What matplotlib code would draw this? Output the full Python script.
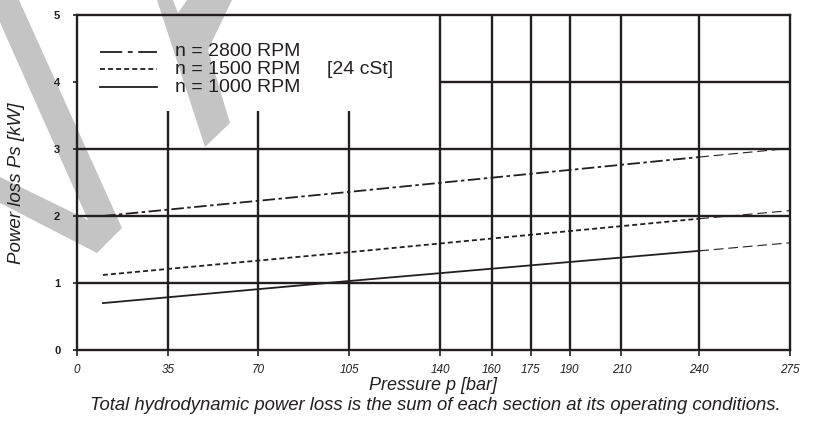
import matplotlib
matplotlib.use('Agg')
import matplotlib.pyplot as plt
from matplotlib.patches import Polygon

plt.rcParams['font.family'] = ['Liberation Sans', 'DejaVu Sans']
plt.rcParams['lines.scale_dashes'] = False

# data
pressure = [10, 105, 240]
ext_pressure = [240, 275]
loss_2800 = [2.00, 2.36, 2.88]
loss_2800_ext = [2.88, 3.01]
loss_1500 = [1.12, 1.46, 1.96]
loss_1500_ext = [1.96, 2.08]
loss_1000 = [0.70, 1.03, 1.48]
loss_1000_ext = [1.48, 1.60]
labels = ['n = 2800 RPM', 'n = 1500 RPM', 'n = 1000 RPM']

x_ticks = [0, 35, 70, 105, 140, 160, 175, 190, 210, 240, 275]
y_ticks = [0, 1, 2, 3, 4, 5]
full_vlines = [140, 160, 175, 190, 210, 240]
short_vlines = [35, 70, 105]
hlines = [1, 2, 3]

INK = '#231f20'
W, H = 825, 423

fig = plt.figure(figsize=(W / 100, H / 100), dpi=100)
ax = fig.add_axes([77 / W, 1 - 350 / H, 713 / W, 335 / H])
ax.patch.set_alpha(0)

# grey watermark strokes behind everything (pixel coords)
def px(points):
    return [(x / W, 1 - y / H) for x, y in points]

marks = [
    [(-10, 0), (19, 0), (122, 228), (97, 253), (0, 203), (0, 177), (88, 220)],
    [(157, 0), (173, 0), (178, 13), (187, 0), (232, 0), (208, 50), (230, 123), (205, 147)],
]
for m in marks:
    fig.add_artist(Polygon(px(m), closed=True, transform=fig.transFigure,
                           facecolor='#c4c4c4', edgecolor='none', zorder=-5))

ax.set_xlim(0, 275)
ax.set_ylim(0, 5)

# grid
glw = 1.7
ax.vlines(full_vlines, 0, 5, colors=INK, lw=glw, zorder=1)
ax.vlines(short_vlines, 0, 3.57, colors=INK, lw=glw, zorder=1)
ax.hlines(hlines, 0, 275, colors=INK, lw=glw, zorder=1)
ax.hlines([4], 140, 275, colors=INK, lw=glw, zorder=1)
for s in ax.spines.values():
    s.set_linewidth(glw)
    s.set_color(INK)

# curves
style_2800 = dict(color=INK, lw=1.3, dashes=(9, 2.5, 2.5, 2.5))
style_1500 = dict(color=INK, lw=1.3, dashes=(3.6, 2.2))
style_1000 = dict(color=INK, lw=1.3)
ext_style = dict(color=INK, lw=0.8, dashes=(7, 3.5))

ax.plot(pressure, loss_2800, zorder=3, **style_2800)
ax.plot(pressure, loss_1500, zorder=3, **style_1500)
ax.plot(pressure, loss_1000, zorder=3, **style_1000)
ax.plot(ext_pressure, loss_2800_ext, zorder=3, **ext_style)
ax.plot(ext_pressure, loss_1500_ext, zorder=3, **ext_style)
ax.plot(ext_pressure, loss_1000_ext, zorder=3, **ext_style)

# legend drawn by hand
leg_y = [0.8896, 0.8388, 0.785]
leg_styles = [dict(color=INK, lw=1.3, dashes=(16, 4, 3.5, 4)),
              dict(color=INK, lw=1.3, dashes=(3.6, 2.2)),
              dict(color=INK, lw=1.3)]
for yy, lab, st in zip(leg_y, labels, leg_styles):
    ax.plot([0.0323, 0.1122], [yy, yy], transform=ax.transAxes, **st)
    ax.text(0.1374, yy, lab, transform=ax.transAxes, fontsize=14,
            va='center', ha='left', color=INK)
ax.text(0.3506, leg_y[1], '[24 cSt]', transform=ax.transAxes, fontsize=14,
        va='center', ha='left', color=INK)

# ticks
ax.set_xticks(x_ticks)
ax.set_xticklabels([str(t) for t in x_ticks], fontstyle='italic', fontsize=8.5)
ax.set_yticks(y_ticks)
ax.set_yticklabels([str(t) for t in y_ticks], fontweight='bold', fontsize=8)
ax.tick_params(axis='x', length=4, width=1.2, pad=6, colors=INK)
ax.tick_params(axis='y', length=3, width=1.2, pad=9, colors=INK)

fig.text(433 / W, 1 - 385 / H, 'Pressure p [bar]', fontstyle='italic',
         fontsize=13, ha='center', va='center', color=INK)
fig.text(435 / W, 1 - 405 / H,
         'Total hydrodynamic power loss is the sum of each section at its operating conditions.',
         fontstyle='italic', fontsize=13.3, ha='center', va='center', color=INK)
fig.text(17 / W, 1 - 183 / H, 'Power loss Ps [kW]', fontstyle='italic',
         fontsize=13.5, rotation=90, ha='center', va='center', color=INK)

fig.savefig('out.png', dpi=100)
